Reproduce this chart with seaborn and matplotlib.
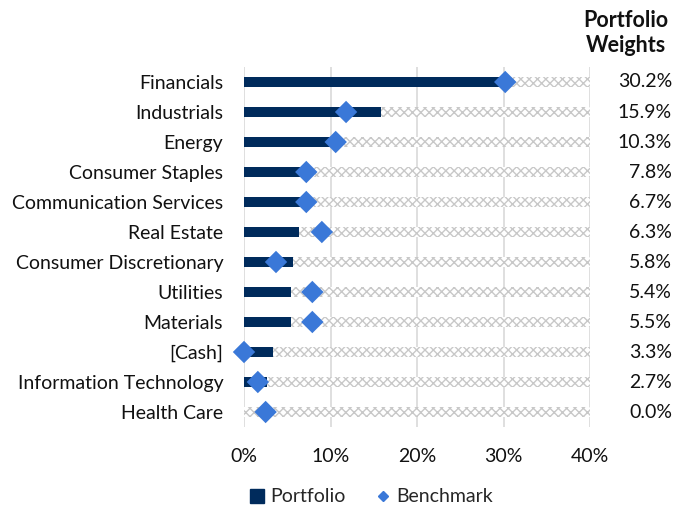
import matplotlib
matplotlib.use("Agg")
import matplotlib.pyplot as plt
import seaborn as sns
import pandas as pd
from matplotlib.lines import Line2D

sectors = ["Financials", "Industrials", "Energy", "Consumer Staples",
           "Communication Services", "Real Estate", "Consumer Discretionary",
           "Utilities", "Materials", "[Cash]", "Information Technology", "Health Care"]
portfolio = [30.2, 15.8, 10.5, 6.8, 6.7, 6.4, 5.7, 5.4, 5.4, 3.4, 2.7, 0.0]
benchmark = [30.2, 11.8, 10.6, 7.2, 7.2, 9.0, 3.7, 7.9, 7.9, 0.0, 1.6, 2.5]
weight_labels = ["30.2%", "15.9%", "10.3%", "7.8%", "6.7%", "6.3%", "5.8%",
                 "5.4%", "5.5%", "3.3%", "2.7%", "0.0%"]
axis_max = 40
xticks = [0, 10, 20, 30, 40]

sns.set_theme(style="white")
plt.rcParams['font.family'] = ['Lato', 'DejaVu Sans']
plt.rcParams['hatch.linewidth'] = 1.0

df = pd.DataFrame({"sector": sectors, "portfolio": portfolio,
                   "benchmark": benchmark, "full": [axis_max] * len(sectors)})

fig = plt.figure(figsize=(6.75, 5.08), dpi=100)
ax = fig.add_axes([244 / 675, 1 - 427 / 508, (590 - 244) / 675, (427 - 67) / 508])

navy = "#002B5C"
blue = "#3A78D8"
grey = "#C8C8C8"
fs = 14

for x in xticks:
    ax.axvline(x, color="#D9D9D9", lw=1.2, zorder=0)

sns.barplot(data=df, y="sector", x="full", orient="h", ax=ax, width=0.33,
            color="white", edgecolor=grey, linewidth=0, zorder=1)
for p in ax.patches:
    p.set_hatch("xxxx")
    p.set_facecolor("white")
    p.set_edgecolor(grey)
sns.barplot(data=df, y="sector", x="portfolio", orient="h", ax=ax, width=0.33,
            color=navy, linewidth=0, zorder=2, saturation=1)
sns.scatterplot(data=df, y="sector", x="benchmark", ax=ax, marker="D", s=130,
                color=blue, edgecolor="none", zorder=3, clip_on=False)

ax.set_xlim(0, axis_max)
ax.set_ylim(len(sectors) - 0.5, -0.5)
ax.set_xticks(xticks)
ax.set_xticklabels([f"{x}%" for x in xticks])
ax.set_xlabel("")
ax.set_ylabel("")
for s in ax.spines.values():
    s.set_visible(False)
ax.tick_params(axis="both", length=0, labelsize=fs, colors="#111111")
ax.tick_params(axis="y", pad=15)
ax.tick_params(axis="x", pad=15)

for i, lab in enumerate(weight_labels):
    fig.text(672 / 675, 1 - (82 + 30 * i) / 508, lab, ha="right", va="center",
             fontsize=fs, color="#111111")
fig.text(626 / 675, 1 - 33 / 508, "Portfolio\nWeights", ha="center", va="center",
         fontsize=15.5, fontweight="bold", color="#111111", linespacing=1.25)

handles = [Line2D([], [], marker="s", color=navy, ls="none", markersize=10),
           Line2D([], [], marker="D", color=blue, ls="none", markersize=5)]
fig.legend(handles, ["Portfolio", "Benchmark"], loc="center",
           bbox_to_anchor=(370 / 675, 1 - 497 / 508), ncol=2, frameon=False,
           fontsize=fs, handletextpad=0.2, columnspacing=1.4, handlelength=1)

fig.savefig("out.png", dpi=100)
